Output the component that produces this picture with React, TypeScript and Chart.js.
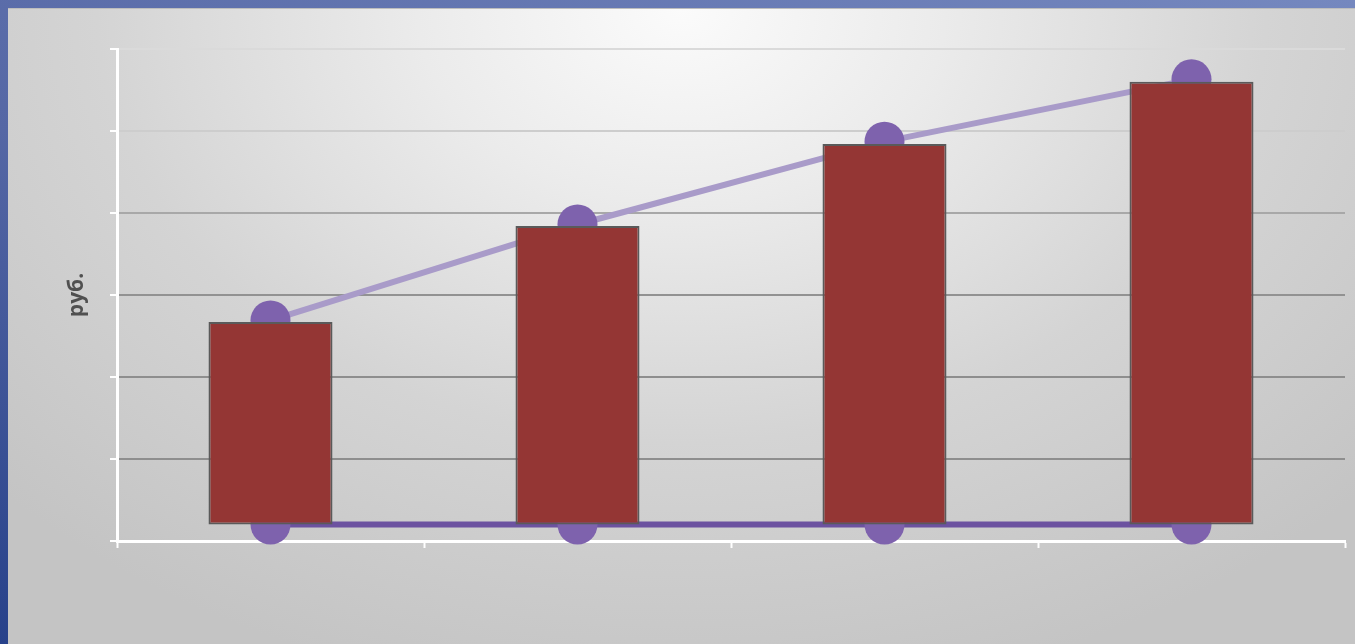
import React, { useEffect, useRef } from "react";
import { Chart, registerables } from "chart.js";

Chart.register(...registerables);

const categories = ["1", "2", "3", "4"];
const barBase = [0.2, 0.2, 0.2, 0.2];
const barTop = [2.67, 3.84, 4.84, 5.6];
const upperLine = [2.69, 3.86, 4.87, 5.63];
const lowerLine = [0.2, 0.2, 0.2, 0.2];
const yTitle = "руб.";

const gridColors: Record<number, string> = {
  6: "#dadada",
  5: "#cdcdcd",
  4: "#a8a8a8",
  3: "#929292",
  2: "#8e8e8e",
  1: "#8e8e8e",
  0: "#ffffff",
};

export default function App() {
  const ref = useRef<HTMLCanvasElement | null>(null);

  useEffect(() => {
    if (!ref.current) return;
    const chart = new Chart(ref.current, {
      type: "bar",
      data: {
        labels: categories,
        datasets: [
          {
            type: "bar",
            data: barBase.map((b, i) => [b, barTop[i]]),
            backgroundColor: "#943634",
            borderColor: "#5a5a5a",
            borderWidth: 2,
            borderSkipped: false,
            barPercentage: 0.404,
            categoryPercentage: 1,
            order: 0,
          } as any,
          {
            type: "line",
            data: upperLine,
            borderColor: "#a99bc9",
            borderWidth: 6,
            pointRadius: 20,
            pointBackgroundColor: "#7e62ad",
            pointBorderWidth: 0,
            pointHoverRadius: 20,
            clip: false,
            order: 1,
          } as any,
          {
            type: "line",
            data: lowerLine,
            borderColor: "#6c52a0",
            borderWidth: 6,
            pointRadius: 20,
            pointBackgroundColor: "#7e62ad",
            pointBorderWidth: 0,
            pointHoverRadius: 20,
            clip: false,
            order: 2,
          } as any,
        ],
      },
      options: {
        animation: false,
        responsive: false,
        maintainAspectRatio: false,
        devicePixelRatio: 1,
        layout: { autoPadding: false, padding: { left: 56, top: 40, right: 10, bottom: 0 } },
        plugins: { legend: { display: false }, tooltip: { enabled: false } },
        scales: {
          x: {
            offset: true,
            ticks: { display: false },
            grid: {
              offset: true,
              drawOnChartArea: false,
              drawTicks: true,
              tickLength: 7,
              tickColor: "#ffffff",
              tickWidth: 2,
            },
            border: { color: "#ffffff", width: 3 },
            afterFit: (scale: any) => {
              scale.height = 104;
            },
          },
          y: {
            min: 0,
            max: 6,
            ticks: { display: false, stepSize: 1 },
            grid: {
              color: (ctx: any) => gridColors[ctx.tick?.value] ?? "#999999",
              lineWidth: 2,
              drawTicks: true,
              tickLength: 7,
              tickColor: "#ffffff",
              tickWidth: 2,
            },
            border: { color: "#ffffff", width: 3 },
            title: {
              display: true,
              text: yTitle,
              color: "#505050",
              font: { family: "'Open Sans', sans-serif", size: 21, weight: "bold" },
              padding: 0,
            },
            afterFit: (scale: any) => {
              scale.width = 53;
            },
          },
        },
      },
    });
    return () => chart.destroy();
  }, []);

  return (
    <div
      style={{
        position: "fixed",
        inset: 0,
        background: "linear-gradient(to top right, #27418a 0%, #5567a5 40%, #7588bf 100%)",
      }}
    >
      <div
        style={{
          position: "absolute",
          left: 8,
          top: 8,
          width: 1347,
          height: 636,
          background:
            "radial-gradient(ellipse 70% 110% at 50% 0%, #fbfbfb 0%, #ebebeb 28%, #d4d4d4 62%, #c4c4c4 100%)",
          borderTop: "1px solid #bdbdbd",
          boxSizing: "border-box",
        }}
      >
        <canvas
          ref={ref}
          width={1347}
          height={636}
          style={{ position: "absolute", left: 0, top: 0, width: 1347, height: 636 }}
        />
      </div>
    </div>
  );
}
